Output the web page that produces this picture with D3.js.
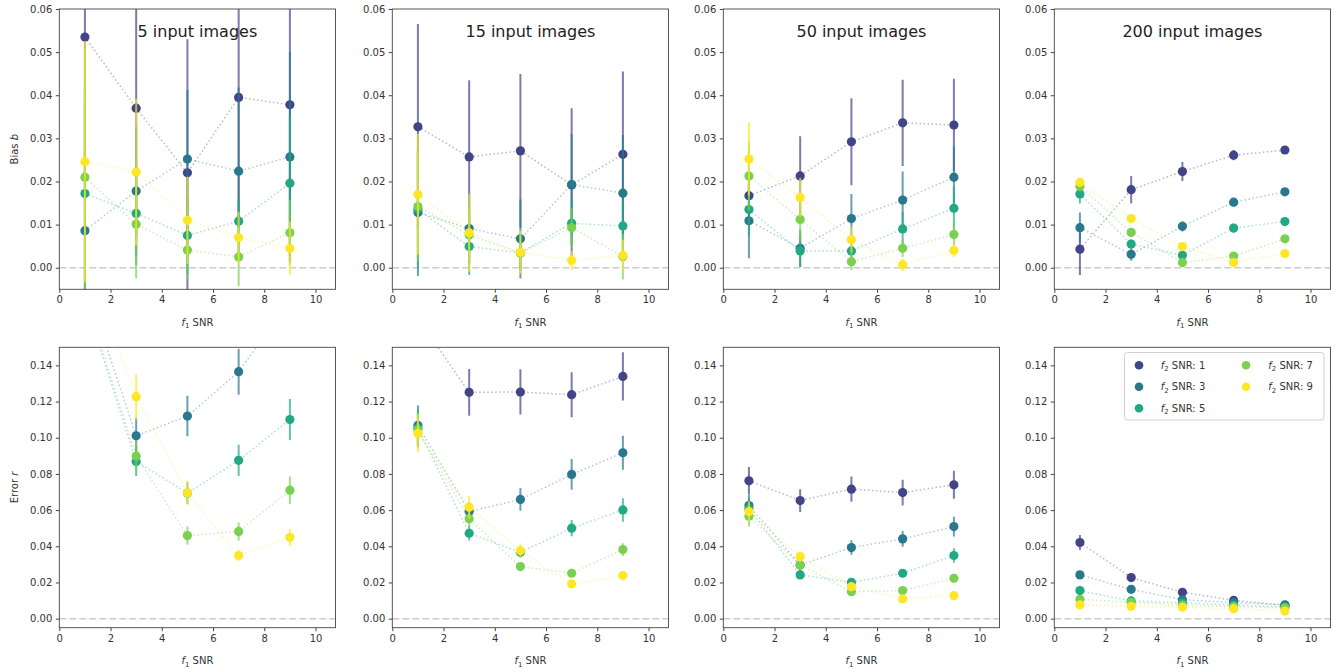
<!DOCTYPE html>
<html><head><meta charset="utf-8">
<script src="https://cdn.jsdelivr.net/npm/d3@7"></script>
<style>
html,body{margin:0;padding:0;background:#fff;}
svg{display:block;font-family:"DejaVu Sans",sans-serif;}
</style></head>
<body><svg id="chart" width="1343" height="672"></svg>
<script>
// ---- data ----
const f1SNR = [1, 3, 5, 7, 9];
const f2SNR = [1, 3, 5, 7, 9];
const nImages = [5, 15, 50, 200];
const xTicks = [0, 2, 4, 6, 8, 10];
const biasTicks = [0, 0.01, 0.02, 0.03, 0.04, 0.05, 0.06];
const errTicks = [0, 0.02, 0.04, 0.06, 0.08, 0.10, 0.12, 0.14];
const seriesColors = ["#414487", "#2a788e", "#22a884", "#7ad151", "#fde725"];

// bias b : rows = f2 SNR 1,3,5,7,9 ; cols = f1 SNR 1..9
const bias5 = [
  [0.0535, 0.0370, 0.0220, 0.0395, 0.0378],
  [0.0086, 0.0178, 0.0252, 0.0224, 0.0257],
  [0.0172, 0.0126, 0.0075, 0.0108, 0.0196],
  [0.0210, 0.0101, 0.0041, 0.0025, 0.0081],
  [0.0246, 0.0222, 0.0110, 0.0070, 0.0045]];
const biasErr5 = [
  [0.035, 0.030, 0.031, 0.030, 0.035],
  [0.030, 0.015, 0.016, 0.0194, 0.0244],
  [0.025, 0.012, 0.009, 0.005, 0.0158],
  [0.030, 0.0126, 0.007, 0.0068, 0.0076],
  [0.028, 0.017, 0.0101, 0.006, 0.0062]];
const bias15 = [
  [0.0327, 0.0257, 0.0271, 0.0192, 0.0263],
  [0.0128, 0.0091, 0.0067, 0.0193, 0.0173],
  [0.0135, 0.0049, 0.0035, 0.0103, 0.0097],
  [0.0142, 0.0076, 0.0034, 0.0093, 0.0026],
  [0.0170, 0.0081, 0.0036, 0.0017, 0.0029]];
const biasErr15 = [
  [0.0238, 0.0178, 0.0178, 0.0178, 0.0192],
  [0.0147, 0.0080, 0.0092, 0.0117, 0.0135],
  [0.0130, 0.0066, 0.0040, 0.0050, 0.0060],
  [0.0130, 0.0060, 0.0040, 0.0045, 0.0053],
  [0.0140, 0.0090, 0.0050, 0.0022, 0.0035]];
const bias50 = [
  [0.0167, 0.0213, 0.0292, 0.0336, 0.0331],
  [0.0109, 0.0045, 0.0114, 0.0157, 0.0210],
  [0.0135, 0.0039, 0.0039, 0.0090, 0.0138],
  [0.0213, 0.0112, 0.0014, 0.0045, 0.0077],
  [0.0252, 0.0163, 0.0065, 0.0007, 0.0040]];
const biasErr50 = [
  [0.0050, 0.0092, 0.0101, 0.0100, 0.0107],
  [0.0087, 0.0043, 0.0057, 0.0066, 0.0071],
  [0.0060, 0.0037, 0.0020, 0.0040, 0.0050],
  [0.0080, 0.0050, 0.0020, 0.0020, 0.0030],
  [0.0085, 0.0045, 0.0030, 0.0015, 0.0015]];
const bias200 = [
  [0.0043, 0.0181, 0.0223, 0.0261, 0.0273],
  [0.0093, 0.0031, 0.0096, 0.0152, 0.0176],
  [0.0171, 0.0055, 0.0029, 0.0092, 0.0107],
  [0.0189, 0.0082, 0.0012, 0.0027, 0.0067],
  [0.0198, 0.0114, 0.0049, 0.0012, 0.0033]];
const biasErr200 = [
  [0.0060, 0.0032, 0.0022, 0.0012, 0.0008],
  [0.0035, 0.0015, 0.0012, 0.0010, 0.0006],
  [0.0022, 0.0010, 0.0008, 0.0010, 0.0006],
  [0.0012, 0.0008, 0.0006, 0.0006, 0.0006],
  [0.0010, 0.0008, 0.0006, 0.0005, 0.0005]];

// error r
const error5 = [
  [0.250, 0.210, 0.200, 0.190, 0.190],
  [0.186, 0.1011, 0.1120, 0.1365, 0.176],
  [0.176, 0.0869, 0.0694, 0.0875, 0.1101],
  [0.178, 0.0899, 0.0459, 0.0482, 0.0710],
  [0.199, 0.1227, 0.0696, 0.0349, 0.0450]];
const errorErr5 = [
  [0.030, 0.025, 0.025, 0.025, 0.025],
  [0.020, 0.0100, 0.0112, 0.0127, 0.015],
  [0.020, 0.0080, 0.0060, 0.0086, 0.0113],
  [0.020, 0.0080, 0.0050, 0.0050, 0.0076],
  [0.020, 0.0127, 0.0068, 0.0030, 0.0045]];
const error15 = [
  [0.166, 0.1251, 0.1253, 0.1238, 0.1339],
  [0.1068, 0.0592, 0.0659, 0.0797, 0.0917],
  [0.1053, 0.0472, 0.0367, 0.0500, 0.0601],
  [0.1044, 0.0552, 0.0288, 0.0251, 0.0382],
  [0.1024, 0.0616, 0.0376, 0.0192, 0.0238]];
const errorErr15 = [
  [0.0150, 0.0129, 0.0125, 0.0124, 0.0133],
  [0.0110, 0.0050, 0.0063, 0.0085, 0.0094],
  [0.0100, 0.0040, 0.0030, 0.0045, 0.0065],
  [0.0100, 0.0040, 0.0020, 0.0020, 0.0035],
  [0.0105, 0.0064, 0.0040, 0.0015, 0.0015]];
const error50 = [
  [0.0762, 0.0653, 0.0716, 0.0697, 0.0740],
  [0.0625, 0.0297, 0.0393, 0.0441, 0.0509],
  [0.0608, 0.0242, 0.0201, 0.0251, 0.0349],
  [0.0566, 0.0297, 0.0149, 0.0155, 0.0223],
  [0.0592, 0.0343, 0.0177, 0.0109, 0.0127]];
const errorErr50 = [
  [0.0076, 0.0063, 0.0070, 0.0071, 0.0077],
  [0.0060, 0.0040, 0.0040, 0.0043, 0.0055],
  [0.0060, 0.0020, 0.0020, 0.0020, 0.0040],
  [0.0057, 0.0030, 0.0015, 0.0015, 0.0020],
  [0.0055, 0.0030, 0.0015, 0.0010, 0.0010]];
const error200 = [
  [0.0421, 0.0227, 0.0146, 0.0101, 0.0074],
  [0.0242, 0.0162, 0.0105, 0.0089, 0.0076],
  [0.0155, 0.0098, 0.0088, 0.0075, 0.0065],
  [0.0107, 0.0090, 0.0075, 0.0066, 0.0060],
  [0.0077, 0.0068, 0.0063, 0.0055, 0.0042]];
const errorErr200 = [
  [0.0042, 0.0015, 0.0010, 0.0008, 0.0006],
  [0.0015, 0.0010, 0.0008, 0.0006, 0.0005],
  [0.0012, 0.0008, 0.0006, 0.0005, 0.0005],
  [0.0010, 0.0006, 0.0005, 0.0005, 0.0005],
  [0.0008, 0.0005, 0.0005, 0.0005, 0.0005]];

const biasMeans = [bias5, bias15, bias50, bias200];
const biasErrs = [biasErr5, biasErr15, biasErr50, biasErr200];
const errorMeans = [error5, error15, error50, error200];
const errorErrs = [errorErr5, errorErr15, errorErr50, errorErr200];

// ---- layout ----
const svg = d3.select("#chart");
const axLefts = [59.3, 392.3, 723.3, 1054.3];
const axW = 276.2;
const rows = [
  {top: 9, bottom: 289.3, domain: [-0.005, 0.06], ticks: biasTicks, means: biasMeans, errs: biasErrs, label: ["Bias ", "b"]},
  {top: 347.3, bottom: 627.7, domain: [-0.005, 0.15], ticks: errTicks, means: errorMeans, errs: errorErrs, label: ["Error ", "r"]}
];
const textColor = "#333";
let clipId = 0;

rows.forEach((row, ri) => {
  nImages.forEach((n, pi) => {
    const L = axLefts[pi];
    const x = d3.scaleLinear().domain([0, 10.78]).range([L, L + axW]);
    const y = d3.scaleLinear().domain(row.domain).range([row.bottom, row.top]);
    const g = svg.append("g");
    const cid = "clip" + (clipId++);
    svg.append("clipPath").attr("id", cid).append("rect")
      .attr("x", L).attr("y", row.top).attr("width", axW).attr("height", row.bottom - row.top);
    const plot = g.append("g").attr("clip-path", `url(#${cid})`);

    // zero line
    plot.append("line").attr("x1", x.range()[0]).attr("x2", x.range()[1])
      .attr("y1", y(0)).attr("y2", y(0))
      .attr("stroke", "#cccccc").attr("stroke-width", 1.5).attr("stroke-dasharray", "7,3");

    const means = row.means[pi], errs = row.errs[pi];
    f2SNR.forEach((s, si) => {
      const col = seriesColors[si];
      const pts = f1SNR.map((fx, k) => ({x: fx, m: means[si][k], e: errs[si][k]}));
      // error bars
      plot.selectAll(null).data(pts).enter().append("line")
        .attr("x1", d => x(d.x)).attr("x2", d => x(d.x))
        .attr("y1", d => y(d.m - d.e)).attr("y2", d => y(d.m + d.e))
        .attr("stroke", col).attr("stroke-width", 2).attr("stroke-opacity", 0.7);
      // dotted connecting line
      plot.append("path").datum(pts)
        .attr("d", d3.line().x(d => x(d.x)).y(d => y(d.m)))
        .attr("fill", "none").attr("stroke", col).attr("stroke-width", 1.5)
        .attr("stroke-opacity", 0.38).attr("stroke-dasharray", "1.5,2.5");
      // markers
      plot.selectAll(null).data(pts).enter().append("circle")
        .attr("cx", d => x(d.x)).attr("cy", d => y(d.m)).attr("r", 4.6)
        .attr("fill", col);
    });

    // frame
    g.append("rect").attr("x", L).attr("y", row.top).attr("width", axW)
      .attr("height", row.bottom - row.top).attr("fill", "none")
      .attr("stroke", "#444").attr("stroke-width", 0.9);

    // axes
    const xa = g.append("g").attr("transform", `translate(0,${row.bottom})`)
      .call(d3.axisBottom(x).tickValues(xTicks).tickFormat(d3.format("d")).tickSize(3.5).tickPadding(3.5));
    const ya = g.append("g").attr("transform", `translate(${L},0)`)
      .call(d3.axisLeft(y).tickValues(row.ticks).tickFormat(d3.format(".2f")).tickSize(3.5).tickPadding(3.5));
    [xa, ya].forEach(a => {
      a.select(".domain").remove();
      a.selectAll("line").attr("stroke", "#444");
      a.selectAll("text").attr("fill", textColor).style("font-size", "10px")
        .style("font-family", "'DejaVu Sans', sans-serif");
    });

    // x label
    const xl = g.append("text").attr("x", L + axW / 2).attr("y", row.bottom + 36.5)
      .attr("text-anchor", "middle").attr("fill", textColor).style("font-size", "10px");
    xl.append("tspan").style("font-style", "italic").text("f");
    xl.append("tspan").attr("dy", 2.5).style("font-size", "7px").text("1");
    xl.append("tspan").attr("dy", -2.5).text(" SNR");

    // y label on first column
    if (pi === 0) {
      const cy = (row.top + row.bottom) / 2;
      const yl = g.append("text").attr("transform", `translate(17.5,${cy}) rotate(-90)`)
        .attr("text-anchor", "middle").attr("fill", textColor).style("font-size", "10px");
      yl.append("tspan").text(row.label[0]);
      yl.append("tspan").style("font-style", "italic").text(row.label[1]);
    }

    // titles on top row
    if (ri === 0) {
      g.append("text").attr("x", L + axW / 2).attr("y", row.top + 28)
        .attr("text-anchor", "middle").attr("fill", "#222").style("font-size", "16px")
        .text(n + " input images");
    }

    // legend in last bottom panel
    if (ri === 1 && pi === 3) {
      const lg = g.append("g");
      lg.append("rect").attr("x", 1124.5).attr("y", 352.5).attr("width", 199.5).attr("height", 67.5)
        .attr("rx", 3).attr("fill", "#fff").attr("fill-opacity", 0.8)
        .attr("stroke", "#d0d0d0").attr("stroke-width", 1);
      const colX = [1139, 1246], txtX = [1160.7, 1268.3], rowY = [365.3, 386.7, 408.3];
      f2SNR.forEach((s, si) => {
        const c = si < 3 ? 0 : 1, r = si < 3 ? si : si - 3;
        lg.append("circle").attr("cx", colX[c]).attr("cy", rowY[r]).attr("r", 4.3).attr("fill", seriesColors[si]);
        const t = lg.append("text").attr("x", txtX[c]).attr("y", rowY[r] + 3.6)
          .attr("fill", textColor).style("font-size", "10px");
        t.append("tspan").style("font-style", "italic").text("f");
        t.append("tspan").attr("dy", 2.5).style("font-size", "7px").text("2");
        t.append("tspan").attr("dy", -2.5).text(" SNR: " + s);
      });
    }
  });
});
</script></body></html>
